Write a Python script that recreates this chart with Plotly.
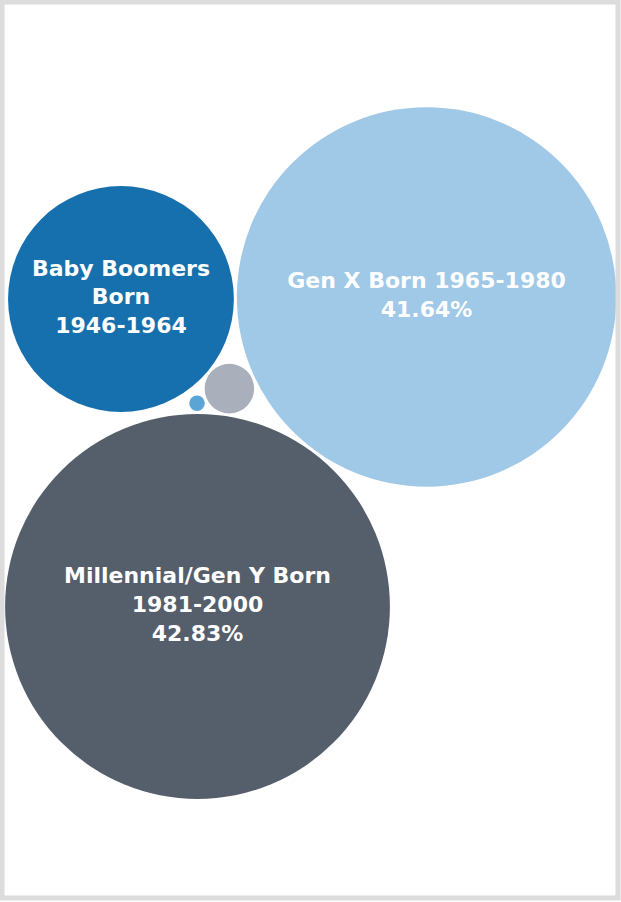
import math
import plotly.graph_objects as go

# ---- data ----
generations = ["Millennial/Gen Y", "Gen X", "Silent Generation", "Baby Boomers", "Gen Z"]
share_pct = [42.83, 41.64, 0.71, 14.75, 0.07]
labels = [
    "Millennial/Gen Y Born<br>1981-2000<br>42.83%",
    "Gen X Born 1965-1980<br>41.64%",
    "",
    "Baby Boomers<br>Born<br>1946-1964",
    "",
]
colors = ["#555e6b", "#a0c8e7", "#a9b0bb", "#1670ad", "#5aa5d6"]

# ---- layout parameters (pixel space) ----
W, H = 621, 902
SCALE = 29.4          # radius = SCALE * sqrt(value)
PAD = 3.0            # gap between touching bubbles
ANCHOR = (197.5, 606.5)
GENX_ANGLE = math.radians(-53.5)

radii = [SCALE * math.sqrt(v) for v in share_pct]


def tangent_to_two(ca, ra, cb, rb, r, pick):
    da, db = ra + r + PAD, rb + r + PAD
    dx, dy = cb[0] - ca[0], cb[1] - ca[1]
    d = math.hypot(dx, dy)
    ux, uy = dx / d, dy / d
    a = (da ** 2 - db ** 2 + d ** 2) / (2 * d)
    h = math.sqrt(max(da ** 2 - a ** 2, 0))
    bx, by = ca[0] + a * ux, ca[1] + a * uy
    cands = [(bx - h * uy, by + h * ux), (bx + h * uy, by - h * ux)]
    return min(cands, key=pick)


centers = [None] * 5
centers[0] = ANCHOR
dist = radii[0] + radii[1] + PAD
centers[1] = (ANCHOR[0] + dist * math.cos(GENX_ANGLE), ANCHOR[1] + dist * math.sin(GENX_ANGLE))
centers[2] = tangent_to_two(centers[0], radii[0], centers[1], radii[1], radii[2], lambda p: p[0])
centers[3] = tangent_to_two(centers[2], radii[2], centers[1], radii[1], radii[3], lambda p: p[1])
centers[4] = tangent_to_two(centers[2], radii[2], centers[0], radii[0], radii[4], lambda p: p[0])

fig = go.Figure()

shapes = []
for (cx, cy), r, c in zip(centers, radii, colors):
    shapes.append(dict(type="circle", xref="x", yref="y",
                       x0=cx - r, x1=cx + r, y0=cy - r, y1=cy + r,
                       fillcolor=c, line=dict(width=0), layer="below"))
# frame
shapes.append(dict(type="rect", xref="x", yref="y", x0=2, y0=2, x1=W - 3, y1=H - 4,
                   line=dict(color="#dcdcdc", width=5), fillcolor="rgba(0,0,0,0)"))

fig.add_trace(go.Scatter(
    x=[c[0] for c in centers], y=[c[1] for c in centers],
    mode="text", text=labels,
    textfont=dict(family="DejaVu Sans", size=22, color="white", weight="bold"),
    textposition="middle center", hoverinfo="text", hovertext=generations,
    showlegend=False,
))

fig.update_layout(
    width=W, height=H,
    margin=dict(l=0, r=0, t=0, b=0),
    paper_bgcolor="white", plot_bgcolor="white",
    xaxis=dict(range=[0, W], visible=False, fixedrange=True),
    yaxis=dict(range=[H, 0], visible=False, fixedrange=True),
    shapes=shapes,
)

fig.write_html("out.html", config={"displayModeBar": False},
               post_script="document.body.style.margin='0';document.body.style.overflow='hidden';")
